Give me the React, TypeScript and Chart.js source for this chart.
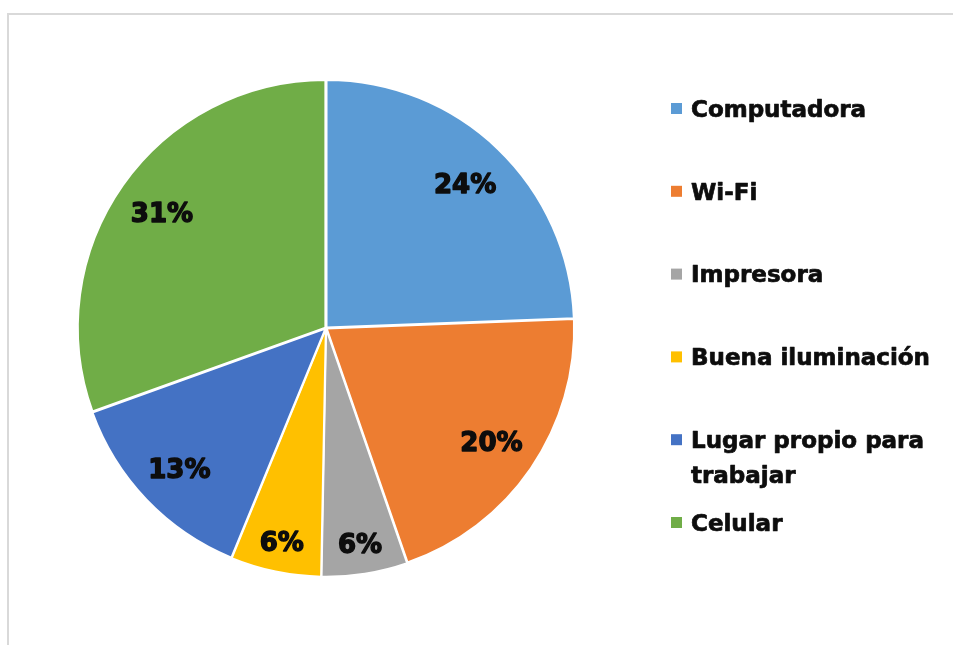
import React, { useEffect, useRef } from "react";
import { Chart, registerables } from "chart.js";

Chart.register(...registerables);

const categories = [
  "Computadora",
  "Wi-Fi",
  "Impresora",
  "Buena iluminación",
  "Lugar propio para trabajar",
  "Celular",
];
const values = [24.4, 20.3, 5.6, 5.9, 13.3, 30.5];
const percentLabels = ["24%", "20%", "6%", "6%", "13%", "31%"];
const colors = ["#5B9BD5", "#ED7D31", "#A5A5A5", "#FFC000", "#4472C4", "#70AD47"];
const labelRadiusFactor = [0.81, 0.81, 0.88, 0.88, 0.82, 0.81];

const framePlugin = {
  id: "frame",
  beforeDraw(chart: any) {
    const ctx = chart.ctx;
    ctx.save();
    ctx.strokeStyle = "#d9d9d9";
    ctx.lineWidth = 2;
    ctx.beginPath();
    ctx.moveTo(8, 660);
    ctx.lineTo(8, 14);
    ctx.lineTo(980, 14);
    ctx.stroke();
    ctx.restore();
  },
};

const percentPlugin = {
  id: "percentLabels",
  afterDatasetsDraw(chart: any) {
    const ctx = chart.ctx;
    const meta = chart.getDatasetMeta(0);
    ctx.save();
    ctx.font = "bold 26px 'DejaVu Sans'";
    ctx.textAlign = "center";
    ctx.textBaseline = "alphabetic";
    ctx.fillStyle = "#0d0d0d";
    ctx.strokeStyle = "#0d0d0d";
    ctx.lineWidth = 1.4;
    ctx.lineJoin = "round";
    meta.data.forEach((arc: any, i: number) => {
      const p = arc.getProps(["x", "y", "startAngle", "endAngle", "outerRadius"], true);
      const mid = (p.startAngle + p.endAngle) / 2;
      const r = p.outerRadius * labelRadiusFactor[i];
      const x = p.x + Math.cos(mid) * r;
      const y = p.y + Math.sin(mid) * r + 9.5;
      ctx.strokeText(percentLabels[i], x, y);
      ctx.fillText(percentLabels[i], x, y);
    });
    ctx.restore();
  },
};

function wrapText(ctx: CanvasRenderingContext2D, text: string, maxWidth: number): string[] {
  const words = text.split(" ");
  const lines: string[] = [];
  let line = "";
  for (const w of words) {
    const test = line ? line + " " + w : w;
    if (ctx.measureText(test).width > maxWidth && line) {
      lines.push(line);
      line = w;
    } else {
      line = test;
    }
  }
  if (line) lines.push(line);
  return lines;
}

const legendPlugin = {
  id: "customLegend",
  afterDraw(chart: any) {
    const ctx = chart.ctx;
    const labels: string[] = chart.data.labels;
    const bg: string[] = chart.data.datasets[0].backgroundColor;
    const startY = 108.5;
    const step = 82.8;
    const boxX = 671;
    const textX = 691;
    ctx.save();
    ctx.font = "bold 23px 'DejaVu Sans'";
    ctx.textAlign = "left";
    ctx.textBaseline = "alphabetic";
    ctx.strokeStyle = "#0d0d0d";
    ctx.lineWidth = 0.7;
    ctx.lineJoin = "round";
    labels.forEach((lab, i) => {
      const cy = startY + i * step;
      ctx.fillStyle = bg[i];
      ctx.fillRect(boxX, cy - 5.5, 11, 11);
      ctx.fillStyle = "#0d0d0d";
      const lines = wrapText(ctx, lab, 250);
      lines.forEach((ln, j) => {
        ctx.strokeText(ln, textX, cy + 8.3 + j * 35);
        ctx.fillText(ln, textX, cy + 8.3 + j * 35);
      });
    });
    ctx.restore();
  },
};

export default function App() {
  const ref = useRef<HTMLCanvasElement | null>(null);

  useEffect(() => {
    if (!ref.current) return;
    const chart = new Chart(ref.current, {
      type: "pie",
      data: {
        labels: categories,
        datasets: [
          {
            data: values,
            backgroundColor: colors,
            borderColor: "#ffffff",
            borderWidth: 2,
            offset: 3,
            hoverOffset: 0,
          },
        ],
      },
      options: {
        animation: false,
        responsive: false,
        maintainAspectRatio: false,
        layout: {
          padding: { left: 76, top: 78, right: 377, bottom: 67 },
        },
        plugins: {
          legend: { display: false },
          tooltip: { enabled: false },
        },
      },
      plugins: [framePlugin, percentPlugin, legendPlugin],
    });
    return () => chart.destroy();
  }, []);

  return (
    <div style={{ position: "absolute", left: 0, top: 0, width: 953, height: 645, background: "#fff" }}>
      <canvas ref={ref} width={953} height={645} style={{ width: 953, height: 645, display: "block" }} />
    </div>
  );
}
